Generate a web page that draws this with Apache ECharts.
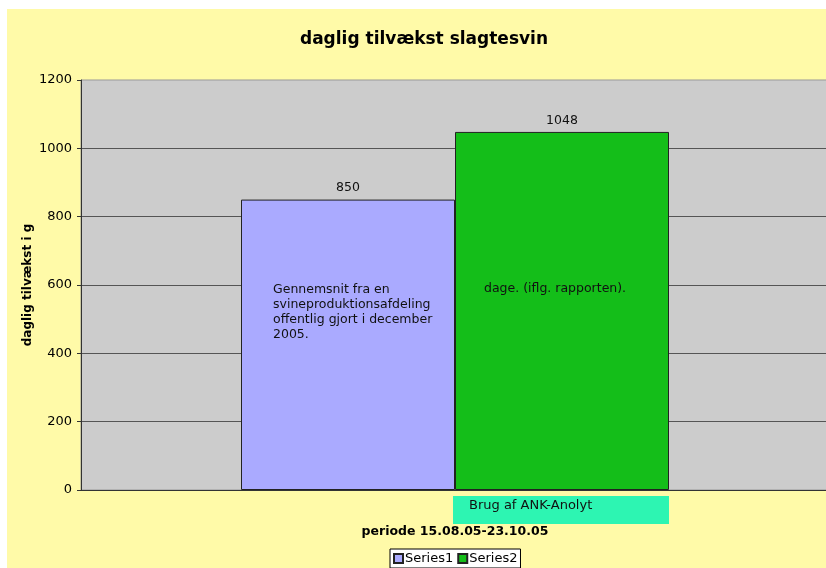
<!DOCTYPE html>
<html><head><meta charset="utf-8">
<script src="https://cdn.jsdelivr.net/npm/echarts@6/dist/echarts.min.js"></script>
<style>html,body{margin:0;padding:0;background:#fff}#c{width:826px;height:568px}</style>
</head><body><div id="c"></div>
<script>
var categories = [''];
var series1 = [850];
var series2 = [1048];
var seriesNames = ['Series1', 'Series2'];
var yTicks = [0, 200, 400, 600, 800, 1000, 1200];

var FONT = 'DejaVu Sans';
var chart = echarts.init(document.getElementById('c'), null, {renderer: 'canvas'});
chart.setOption({
  backgroundColor: '#ffffff',
  animation: false,
  textStyle: {fontFamily: FONT},
  graphic: [
    {type: 'rect', z: -10, shape: {x: 7, y: 9, width: 819, height: 559}, style: {fill: '#FFFAA8'}, silent: true},
    {type: 'rect', z: 10, shape: {x: 453, y: 496, width: 216, height: 28}, style: {fill: '#2DF5B2'}},
    {type: 'text', z: 11, left: 469, top: 499, style: {text: 'Brug af ANK-Anolyt', font: '13px "DejaVu Sans"', fill: '#111'}},
    {type: 'text', z: 11, left: 273, top: 282, style: {text: 'Gennemsnit fra en\nsvineproduktionsafdeling\noffentlig gjort i december\n2005.', font: '12.5px "DejaVu Sans"', fill: '#111', lineHeight: 15}},
    {type: 'text', z: 11, left: 484, top: 282, style: {text: 'dage. (iflg. rapporten).', font: '12.5px "DejaVu Sans"', fill: '#111'}}
  ],
  title: {
    text: 'daglig tilvækst slagtesvin',
    left: 419, top: 26, textAlign: 'center',
    textStyle: {fontFamily: FONT, fontWeight: 'bold', fontSize: 17, color: '#000'}
  },
  legend: {
    data: seriesNames,
    left: 390, top: 549,
    backgroundColor: '#ffffff',
    borderColor: '#000', borderWidth: 1,
    padding: [3, 3, 3, 3],
    itemGap: 4,
    itemWidth: 9, itemHeight: 9,
    icon: 'rect',
    textStyle: {fontFamily: FONT, fontSize: 13, color: '#000', padding: [0, 0, 0, -3]}
  },
  grid: {left: 81, top: 80, width: 748, height: 410, outerBoundsMode: 'none', containLabel: false,
         show: true, backgroundColor: '#CCCCCC', borderColor: '#999', borderWidth: 1},
  xAxis: {
    type: 'category', data: categories,
    name: 'periode 15.08.05-23.10.05', nameLocation: 'middle', nameGap: 35,
    nameTextStyle: {fontFamily: FONT, fontWeight: 'bold', fontSize: 12.5, color: '#000'},
    axisLine: {lineStyle: {color: '#333', width: 1}},
    axisTick: {show: false}, axisLabel: {show: false}
  },
  yAxis: {
    type: 'value', min: 0, max: 1200, interval: 200,
    name: 'daglig tilvækst i g', nameLocation: 'middle', nameGap: 47, nameRotate: 90, nameMoveOverlap: false,
    nameTextStyle: {fontFamily: FONT, fontWeight: 'bold', fontSize: 12, color: '#000'},
    axisLine: {show: true, lineStyle: {color: '#333', width: 1}},
    axisTick: {show: true, length: 4, lineStyle: {color: '#333'}},
    axisLabel: {fontFamily: FONT, fontSize: 13, color: '#000', margin: 9,
      formatter: function (v) { return yTicks.indexOf(v) >= 0 ? String(v) : ''; }},
    splitLine: {showMaxLine: false, lineStyle: {color: '#555', width: 1}}
  },
  series: [
    {name: seriesNames[0], type: 'bar', data: series1, barGap: '0%', barWidth: 214,
     itemStyle: {color: '#AAAAFF', borderColor: '#222', borderWidth: 1},
     label: {show: true, position: 'top', distance: 5, fontFamily: FONT, fontSize: 12.5, color: '#111'}},
    {name: seriesNames[1], type: 'bar', data: series2, barGap: '0%', barWidth: 214,
     itemStyle: {color: '#14BE19', borderColor: '#222', borderWidth: 1},
     label: {show: true, position: 'top', distance: 5, fontFamily: FONT, fontSize: 12.5, color: '#111'}}
  ]
});
</script></body></html>
